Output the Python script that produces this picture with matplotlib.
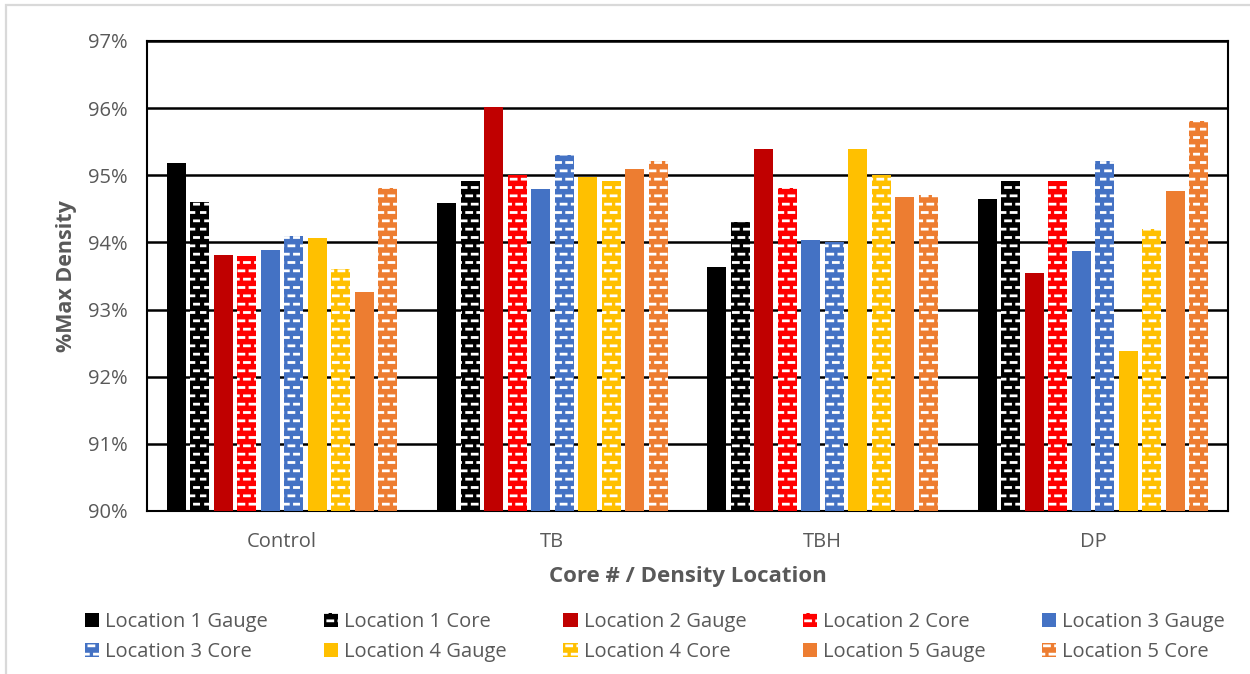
import numpy as np
import matplotlib.pyplot as plt
from matplotlib import hatch as mhatch
from matplotlib.path import Path
from matplotlib.patches import Rectangle
from matplotlib.ticker import PercentFormatter

categories = ['Control', 'TB', 'TBH', 'DP']
series = ['Location 1 Gauge', 'Location 1 Core', 'Location 2 Gauge', 'Location 2 Core',
          'Location 3 Gauge', 'Location 3 Core', 'Location 4 Gauge', 'Location 4 Core',
          'Location 5 Gauge', 'Location 5 Core']
values = [
    [95.18, 94.58, 93.64, 94.64],  # Location 1 Gauge
    [94.60, 94.92, 94.30, 94.91],  # Location 1 Core
    [93.82, 96.01, 95.39, 93.54],  # Location 2 Gauge
    [93.80, 95.00, 94.81, 94.91],  # Location 2 Core
    [93.88, 94.79, 94.03, 93.87],  # Location 3 Gauge
    [94.10, 95.30, 94.00, 95.21],  # Location 3 Core
    [94.07, 94.97, 95.39, 92.39],  # Location 4 Gauge
    [93.60, 94.92, 95.00, 94.20],  # Location 4 Core
    [93.26, 95.10, 94.67, 94.76],  # Location 5 Gauge
    [94.81, 95.21, 94.70, 95.81],  # Location 5 Core
]
colors = ['#000000', '#000000', '#C00000', '#FF0000', '#4472C4', '#4472C4',
          '#FFC000', '#FFC000', '#ED7D31', '#ED7D31']


# brick-like pattern of short white dashes, like Excel's "small confetti"-ish fill
class BrickHatch(mhatch.HatchPatternBase):
    def __init__(self, hatch, density):
        n = hatch.count('b')
        self.rows = 12 * n
        self.cols = 9
        self.num_vertices = self.rows * self.cols * 2

    def set_vertices_and_codes(self, vertices, codes):
        k = 0
        for r in range(self.rows):
            y = (r + 0.5) / self.rows
            off = 0.0 if r % 2 == 0 else 0.5
            for c in range(self.cols):
                x0 = (c + off) / self.cols
                vertices[k] = (x0, y)
                vertices[k + 1] = (x0 + 0.05, y)
                codes[k] = Path.MOVETO
                codes[k + 1] = Path.LINETO
                k += 2


mhatch._hatch_types.append(BrickHatch)

plt.rcParams['font.family'] = ['Open Sans', 'DejaVu Sans']
plt.rcParams['hatch.linewidth'] = 2.0
text_col = '#595959'

fig = plt.figure(figsize=(12.5, 6.74), dpi=100)
ax = fig.add_axes([147 / 1250, 1 - 511 / 674, (1228 - 147) / 1250, (511 - 41) / 674])

# light grey chart-area border (left and top visible)
fig.patches.append(Rectangle((6 / 1250, -0.1), 1.2, 1 - 5 / 674 + 0.1, transform=fig.transFigure,
                             fill=False, edgecolor='#D9D9D9', linewidth=1.6, zorder=0))

x = np.arange(len(categories))
step = 0.087
width = 0.07
base = 90
handles = []
for i, (name, vals, c) in enumerate(zip(series, values, colors)):
    offs = (i - 4.5) * step
    h = [v - base for v in vals]
    if 'Core' in name:
        b = ax.bar(x + offs, h, width, bottom=base, color=c, edgecolor='white', linewidth=0,
                   hatch='b', label=name, zorder=3)
    else:
        b = ax.bar(x + offs, h, width, bottom=base, color=c, linewidth=0, label=name, zorder=3)
    handles.append(b)

ax.set_xlim(-0.5, 3.5)
ax.set_ylim(90, 97)
ax.set_yticks(np.arange(90, 97.5, 1))
ax.yaxis.set_major_formatter(PercentFormatter(decimals=0))
ax.grid(axis='y', color='black', linewidth=1.8, zorder=0)
for s in ax.spines.values():
    s.set_color('black')
    s.set_linewidth(1.5)
ax.set_xticks(x)
ax.set_xticklabels(categories)
ax.tick_params(axis='both', length=0, labelsize=14.5, labelcolor=text_col)
ax.tick_params(axis='x', pad=15)
ax.tick_params(axis='y', pad=14)

ax.set_xlabel('Core # / Density Location', fontsize=16, fontweight='bold', color=text_col, labelpad=10)
ax.set_ylabel('%Max Density', fontsize=15.5, fontweight='bold', color=text_col, labelpad=8)

# legend filled row by row, like the original
order = [0, 5, 1, 6, 2, 7, 3, 8, 4, 9]
leg = fig.legend([handles[k] for k in order], [series[k] for k in order],
                 loc='upper left', bbox_to_anchor=(85 / 1250, 1 - 612 / 674), ncol=5, frameon=False,
                 fontsize=14.5, labelcolor=text_col, handlelength=0.7, handleheight=0.7,
                 handletextpad=0.3, columnspacing=2.8, labelspacing=0.5,
                 borderpad=0, borderaxespad=0)

fig.savefig('out.png', dpi=100)
